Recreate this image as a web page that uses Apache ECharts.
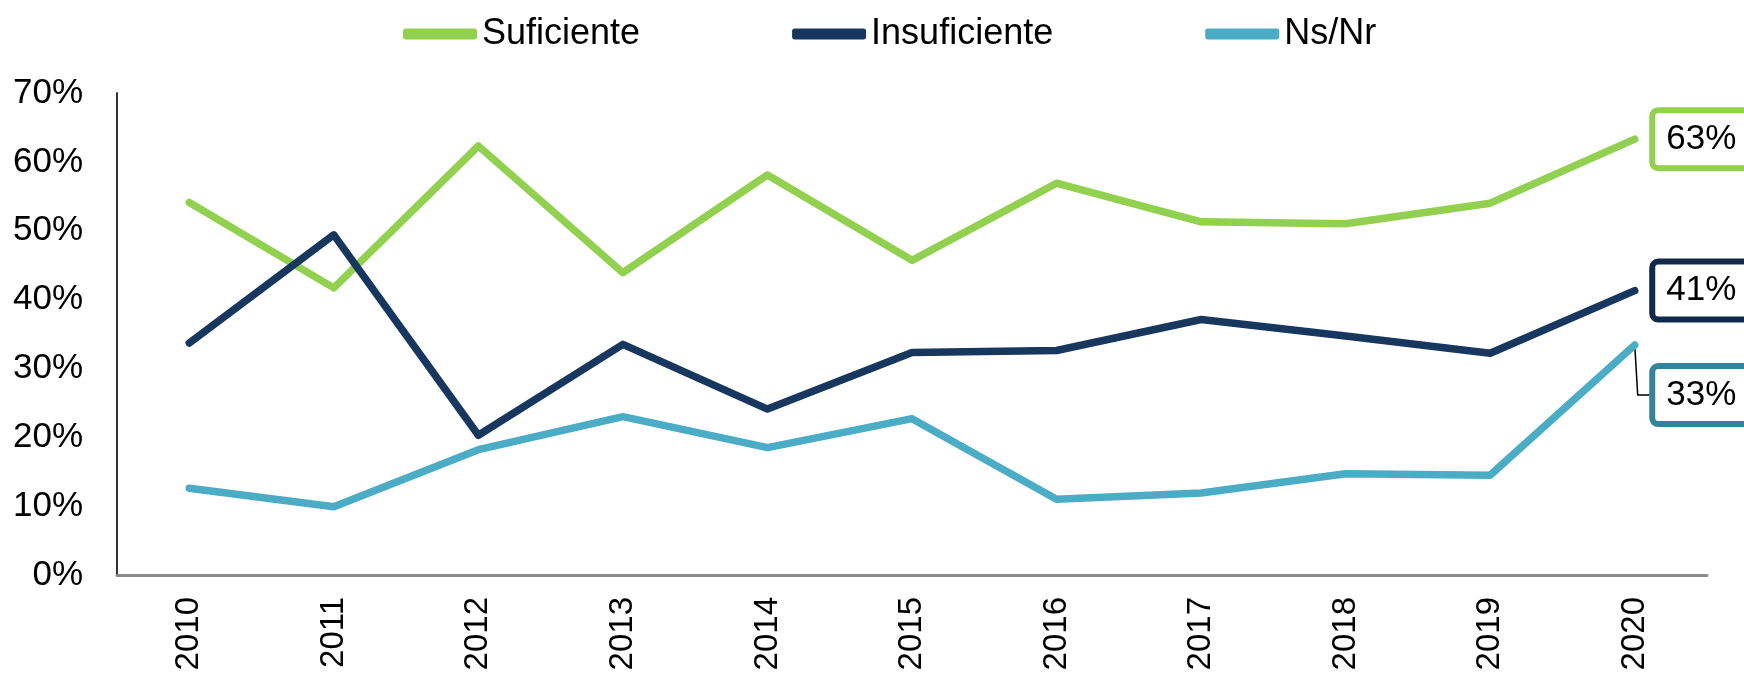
<!DOCTYPE html>
<html>
<head>
<meta charset="utf-8">
<script src="https://cdn.jsdelivr.net/npm/echarts@6/dist/echarts.min.js"></script>
<style>
html,body{margin:0;padding:0;background:#fff;}
#chart{width:1744px;height:681px;}
</style>
</head>
<body>
<div id="chart"></div>
<script>
var categories = ['2010','2011','2012','2013','2014','2015','2016','2017','2018','2019','2020'];
var seriesNames = ['Suficiente','Insuficiente','Ns/Nr'];
var suficiente   = [54.1, 41.7, 62.3, 43.9, 58.1, 45.7, 56.9, 51.3, 51.0, 54.0, 63.3];
var insuficiente = [33.7, 49.4, 20.3, 33.5, 24.1, 32.3, 32.6, 37.1, 34.7, 32.2, 41.3];
var nsnr         = [12.6,  9.9, 18.2, 23.0, 18.5, 22.7, 11.0, 11.9, 14.7, 14.5, 33.4];
var yTicks = [0, 10, 20, 30, 40, 50, 60, 70];

var FONT = '"Liberation Sans", Arial, sans-serif';
var lineColors = ['#92D050', '#17375E', '#4BACC6'];
var boxColors  = ['#92D050', '#13294B', '#31849B'];
var labelDy    = [0, 0, 50];

var chart = echarts.init(document.getElementById('chart'), null, {renderer: 'canvas'});

function buildData(values, idx) {
  var last = values.length - 1;
  return values.map(function (v, i) {
    if (i !== last) return v;
    return {
      value: v,
      label: {
        show: true,
        position: 'right',
        distance: 20,
        offset: [0, labelDy[idx]],
        formatter: function (p) { return Math.round(p.value) + '%'; },
        fontFamily: FONT,
        fontSize: 35,
        color: '#000',
        backgroundColor: '#fff',
        borderColor: boxColors[idx],
        borderWidth: 6,
        borderRadius: 3,
        padding: [6, 24, 6, 11],
        lineHeight: 40
      }
    };
  });
}

var allValues = [suficiente, insuficiente, nsnr];
var series = allValues.map(function (vals, idx) {
  return {
    name: seriesNames[idx],
    type: 'line',
    data: buildData(vals, idx),
    symbol: 'circle',
    symbolSize: 1,
    showSymbol: true,
    itemStyle: {color: lineColors[idx]},
    lineStyle: {color: lineColors[idx], width: 7.5, cap: 'round', join: 'round'},
    emphasis: {disabled: true},
    z: 2 + idx
  };
});

chart.setOption({
  animation: false,
  backgroundColor: '#fff',
  legend: {
    left: 398,
    top: 11,
    itemWidth: 74,
    itemHeight: 11,
    itemGap: 152,
    icon: 'roundRect',
    textStyle: {fontFamily: FONT, fontSize: 36, color: '#000'},
    data: seriesNames.map(function (n, i) {
      return {name: n, itemStyle: {color: lineColors[i]}};
    })
  },
  grid: {left: 117, right: 37, top: 93, bottom: 106, containLabel: false},
  xAxis: {
    type: 'category',
    data: categories,
    boundaryGap: true,
    axisLine: {show: true, lineStyle: {color: '#8C8C8C', width: 3}},
    axisTick: {show: false},
    axisLabel: {rotate: 90, margin: 22, fontFamily: FONT, fontSize: 33, color: '#000'},
    splitLine: {show: false}
  },
  yAxis: {
    type: 'value',
    min: yTicks[0],
    max: yTicks[yTicks.length - 1],
    interval: 10,
    axisLine: {show: true, lineStyle: {color: '#333', width: 2}},
    axisTick: {show: false},
    axisLabel: {margin: 34, fontFamily: FONT, fontSize: 35, color: '#000', formatter: '{value}%'},
    splitLine: {show: false}
  },
  series: series
});

// leader line for the offset Ns/Nr label, positioned from the data via the axis scales
var lastIdx = nsnr.length - 1;
var p = chart.convertToPixel({seriesIndex: 2}, [lastIdx, nsnr[lastIdx]]);
chart.setOption({
  graphic: [{
    type: 'polyline',
    shape: {points: [[p[0], p[1]], [p[0] + 3, p[1] + labelDy[2]], [p[0] + 19, p[1] + labelDy[2]]]},
    style: {stroke: '#000', lineWidth: 1.5, fill: null},
    z: 1
  }]
});
</script>
</body>
</html>
